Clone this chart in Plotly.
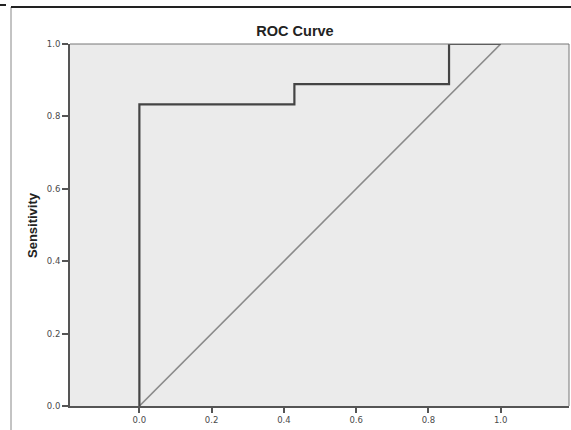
import plotly.graph_objects as go

# ROC curve data
fpr = [0.0, 0.0, 0.429, 0.429, 0.857, 0.857, 1.0]
sensitivity = [0.0, 0.833, 0.833, 0.889, 0.889, 1.0, 1.0]
ref_x = [0.0, 1.0]
ref_y = [0.0, 1.0]
x_ticks = [0.0, 0.2, 0.4, 0.6, 0.8, 1.0]
y_ticks = [0.0, 0.2, 0.4, 0.6, 0.8, 1.0]

W, H = 571, 430
L, R, T, B = 70, 2, 44, 24
pw, ph = W - L - R, H - T - B

def px_x(p):
    return (p - L) / pw

def px_y(p):
    return (H - B - p) / ph

fig = go.Figure()
fig.add_trace(go.Scatter(x=ref_x, y=ref_y, mode="lines",
                         line=dict(color="#8a8a8a", width=1.6),
                         hoverinfo="skip", showlegend=False))
fig.add_trace(go.Scatter(x=fpr, y=sensitivity, mode="lines",
                         line=dict(color="#444444", width=2.2),
                         showlegend=False))

bold_font = "Liberation Sans, Arial, sans-serif"
tick_font = dict(family="DejaVu Sans, sans-serif", size=8.5, color="#4a4a4a")
fig.update_layout(
    width=W, height=H,
    margin=dict(l=L, r=R, t=T, b=B, pad=0),
    paper_bgcolor="white",
    plot_bgcolor="#ebebeb",
    font=dict(family=bold_font, size=9, color="#444444"),
    showlegend=False,
    xaxis=dict(range=[-0.192, 1.189], tickvals=x_ticks,
               ticktext=[f"{v:.1f}" for v in x_ticks],
               showgrid=False, zeroline=False,
               showline=True, linecolor="#555555", linewidth=2,
               ticks="outside", ticklen=5, tickwidth=2, tickcolor="#555555",
               tickfont=tick_font),
    yaxis=dict(range=[0, 1], tickvals=y_ticks,
               ticktext=[f"{v:.1f}" for v in y_ticks],
               showgrid=False, zeroline=False,
               showline=True, linecolor="#555555", linewidth=2,
               ticks="outside", ticklen=6, tickwidth=2, tickcolor="#555555",
               tickfont=tick_font),
    title=dict(text="<b>ROC Curve</b>", x=px_x(295), xref="paper",
               xanchor="center", y=1 - 31 / H, yanchor="middle",
               font=dict(family=bold_font, size=14.5, color="#222222")),
    annotations=[dict(text="<b>Sensitivity</b>", xref="paper", yref="paper",
                      x=px_x(32), y=0.5, xanchor="center", yanchor="middle",
                      textangle=-90, showarrow=False,
                      font=dict(family=bold_font, size=13, color="#222222"))],
)

shapes = [
    # plot outline (top/right thinner)
    dict(type="line", xref="paper", yref="paper", x0=0, x1=1, y0=1, y1=1,
         line=dict(color="#777777", width=1)),
    dict(type="line", xref="paper", yref="paper", x0=1, x1=1, y0=0, y1=1,
         line=dict(color="#777777", width=1)),
    # outer page frame
    dict(type="line", xref="paper", yref="paper", x0=px_x(11), x1=px_x(11),
         y0=px_y(7), y1=px_y(431), line=dict(color="#888888", width=1)),
    dict(type="line", xref="paper", yref="paper", x0=px_x(11), x1=px_x(571),
         y0=px_y(7), y1=px_y(7), line=dict(color="#222222", width=2)),
    dict(type="line", xref="paper", yref="paper", x0=px_x(0), x1=px_x(6),
         y0=px_y(5), y1=px_y(5), line=dict(color="#222222", width=2)),
]
fig.update_layout(shapes=shapes)

fig.write_html(
    "out.html",
    config={"displayModeBar": False},
    post_script="document.documentElement.style.margin='0';"
                "document.body.style.margin='0';"
                "document.body.style.overflow='hidden';",
)
